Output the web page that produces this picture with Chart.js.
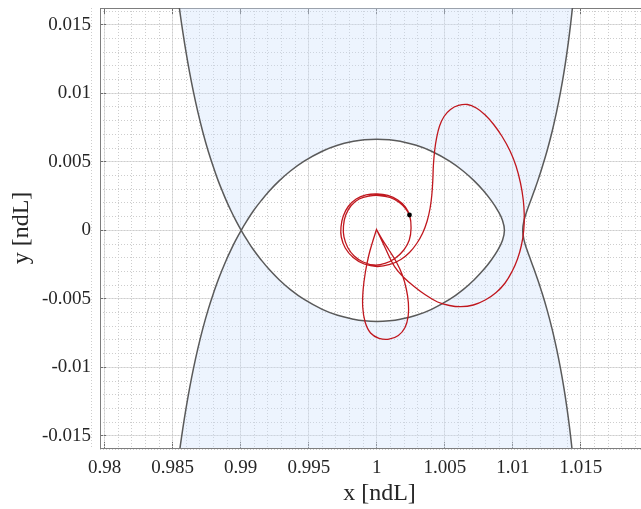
<!DOCTYPE html>
<html>
<head>
<meta charset="utf-8">
<script src="https://cdn.jsdelivr.net/npm/chart.js@4.4.1/dist/chart.umd.min.js"></script>
<style>
  html, body { margin: 0; padding: 0; overflow: hidden; background: #ffffff; width: 641px; height: 509px; }
  #wrap { position: absolute; left: 0; top: 0; width: 663px; height: 509px; }
</style>
</head>
<body>
<div id="wrap"><canvas id="c" width="663" height="509"></canvas></div>
<script>
// ---------------- data ----------------
// axis limits
const xLimits = [0.979657, 1.020737];
const yLimits = [-0.015885, 0.01622];

// tick positions and labels
const xTickValues = [0.98, 0.985, 0.99, 0.995, 1, 1.005, 1.01, 1.015];
const xTickLabels = ['0.98', '0.985', '0.99', '0.995', '1', '1.005', '1.01', '1.015'];
const yTickValues = [-0.015, -0.01, -0.005, 0, 0.005, 0.01, 0.015];
const yTickLabels = ['-0.015', '-0.01', '-0.005', '0', '0.005', '0.01', '0.015'];

// zero-velocity curve, sun side, upper branch (top of plot -> L1)
const leftOuterUpperX = [0.985345, 0.985539, 0.98575, 0.985982, 0.986238, 0.986523, 0.986842, 0.987202, 0.987612, 0.988088, 0.988346, 0.988635, 0.988938, 0.989272, 0.989634, 0.990032];
const leftOuterUpperY = [0.017308, 0.015865, 0.014423, 0.012981, 0.011538, 0.010096, 0.008654, 0.007212, 0.005769, 0.004327, 0.003606, 0.002885, 0.002163, 0.001442, 0.000721, 0];
// sun side, lower branch (L1 -> bottom of plot)
const leftOuterLowerX = [0.990032, 0.989634, 0.989272, 0.988938, 0.988635, 0.988346, 0.988088, 0.987612, 0.987202, 0.986842, 0.986523, 0.986238, 0.985982, 0.98575, 0.985539, 0.985345];
const leftOuterLowerY = [0, -0.000721, -0.001442, -0.002163, -0.002885, -0.003606, -0.004327, -0.005769, -0.007212, -0.008654, -0.010096, -0.011538, -0.012981, -0.014423, -0.015865, -0.017308];

// closed curve around the secondary, upper half (L1 -> right tip)
const ovalUpperX = [0.990032, 0.990471, 0.990948, 0.991502, 0.992115, 0.992822, 0.99365, 0.994661, 0.99599, 0.997118, 0.998292, 0.999074, 1.0, 1.000926, 1.001725, 1.002898, 1.004023, 1.005344, 1.006343, 1.007157, 1.007839, 1.008414, 1.008889, 1.009238, 1.009378];
const ovalUpperY = [0, 0.000721, 0.001442, 0.002163, 0.002885, 0.003606, 0.004327, 0.005048, 0.005769, 0.006202, 0.00649, 0.006606, 0.006652, 0.006606, 0.00649, 0.006202, 0.005769, 0.005048, 0.004327, 0.003606, 0.002885, 0.002163, 0.001442, 0.000721, 0];
// lower half (L1 -> right tip)
const ovalLowerX = [0.990032, 0.990471, 0.990948, 0.991502, 0.992115, 0.992822, 0.99365, 0.994661, 0.99599, 0.997118, 0.998292, 0.999074, 1.0, 1.000926, 1.001725, 1.002898, 1.004023, 1.005344, 1.006343, 1.007157, 1.007839, 1.008414, 1.008889, 1.009238, 1.009378];
const ovalLowerY = [0, -0.000721, -0.001442, -0.002163, -0.002885, -0.003606, -0.004327, -0.005048, -0.005769, -0.006202, -0.00649, -0.006606, -0.006652, -0.006606, -0.00649, -0.006202, -0.005769, -0.005048, -0.004327, -0.003606, -0.002885, -0.002163, -0.001442, -0.000721, 0];

// far side curve (top of plot -> bottom of plot)
const rightOuterX = [1.014482, 1.014335, 1.014166, 1.013974, 1.013754, 1.013501, 1.013213, 1.012883, 1.012502, 1.012065, 1.011827, 1.01157, 1.011305, 1.011041, 1.010819, 1.010719, 1.010819, 1.011041, 1.011305, 1.01157, 1.011827, 1.012065, 1.012502, 1.012883, 1.013213, 1.013501, 1.013754, 1.013974, 1.014166, 1.014335, 1.014482];
const rightOuterY = [0.017308, 0.015865, 0.014423, 0.012981, 0.011538, 0.010096, 0.008654, 0.007212, 0.005769, 0.004327, 0.003606, 0.002885, 0.002163, 0.001442, 0.000721, 0, -0.000721, -0.001442, -0.002163, -0.002885, -0.003606, -0.004327, -0.005769, -0.007212, -0.008654, -0.010096, -0.011538, -0.012981, -0.014423, -0.015865, -0.017308];

// trajectory (red)
const trajX = [0.999978, 1.000379, 1.00089, 1.001437, 1.001875, 1.002167, 1.00232, 1.002306, 1.002072, 1.001583, 1.00089, 1.000161, 0.99954, 0.999139, 0.998964, 0.998993, 0.999161, 0.999416, 0.999708, 0.999978, 0.999978,
  1.000576, 1.001306, 1.001985, 1.002765, 1.00359, 1.004466, 1.005341, 1.006166, 1.007092, 1.007968, 1.008771, 1.009427, 1.009938, 1.010339, 1.010631, 1.010799, 1.010835, 1.010762, 1.010558, 1.01023, 1.009792, 1.009208, 1.008588, 1.007968, 1.007311, 1.006654, 1.005998, 1.005414, 1.00494, 1.004611, 1.004393, 1.004247, 1.004159, 1.004115, 1.004042, 1.003918, 1.003699, 1.003371, 1.002933, 1.002401, 1.001766, 1.000963,
  1.000015, 0.999066, 0.998263, 0.99768, 0.997388, 0.997366, 0.997534, 0.997899, 0.998482, 0.999212, 1.000015, 1.000817, 1.001547, 1.002094, 1.002422, 1.002517, 1.002386, 1.001985, 1.001328, 1.000598,
  0.999796, 0.998993, 0.998336, 0.997862, 0.997585, 0.997548, 0.997716, 0.998117, 0.998701, 0.999431, 1.000161, 1.000963, 1.001656, 1.002131, 1.002401];
const trajY = [0.000058, -0.000635, -0.001437, -0.002313, -0.003262, -0.004283, -0.005305, -0.006253, -0.007092, -0.007676, -0.007946, -0.00788, -0.007494, -0.006691, -0.005597, -0.004356, -0.003043, -0.001802, -0.000781, 0.000058, 0.000058,
  -0.001197, -0.002656, -0.003444, -0.004115, -0.004721, -0.005232, -0.005487, -0.005575, -0.005451, -0.005086, -0.004538, -0.003845, -0.003006, -0.002094, -0.001073, 0.000022, 0.001116, 0.002211, 0.003451, 0.004692, 0.005786, 0.006844, 0.00772, 0.008413, 0.008924, 0.009179, 0.009106, 0.008814, 0.008303, 0.00761, 0.006735, 0.005786, 0.004765, 0.00367, 0.002576, 0.001627, 0.000679, -0.000197, -0.000963, -0.00162, -0.002131, -0.002495,
  -0.002641, -0.002459, -0.001985, -0.001292, -0.000489, 0.000241, 0.001043, 0.001737, 0.002284, 0.002576, 0.002649, 0.002539, 0.002211, 0.0017, 0.001043, 0.000168, -0.000708, -0.001437, -0.002058, -0.002422,
  -0.002532, -0.002313, -0.001875, -0.001255, -0.000489, 0.000314, 0.001116, 0.00181, 0.002284, 0.002503, 0.002539, 0.002393, 0.002028, 0.001554, 0.001116];

// marked point (black dot)
const markerX = [1.002401];
const markerY = [0.001116];

// ---------------- build chart structures ----------------
const pts = (xs, ys) => xs.map((x, i) => ({ x: x, y: ys[i] }));
const leftOuterUpper = pts(leftOuterUpperX, leftOuterUpperY);
const leftOuterLower = pts(leftOuterLowerX, leftOuterLowerY);
const ovalUpper = pts(ovalUpperX, ovalUpperY);
const ovalLower = pts(ovalLowerX, ovalLowerY);
const rightOuter = pts(rightOuterX, rightOuterY);

// the sun-side curve runs straight through L1 into the closed curve and back out
const westCurve = [].concat(
  leftOuterUpper,
  ovalLower.slice(1),
  ovalUpper.slice(0, -1).reverse(),
  leftOuterLower.slice(1)
);

// shaded region: between the two outer curves, without the inside of the closed curve
const L1 = leftOuterUpper[leftOuterUpper.length - 1];
const bl = leftOuterLower[leftOuterLower.length - 1];
const rightUp = rightOuter.slice().reverse();
const br = rightUp[0];
const tr = rightUp[rightUp.length - 1];
const shadePts = [].concat(
  leftOuterUpper, [L1],
  ovalUpper.slice(1),
  ovalLower.slice(0, -1).reverse(), [L1],
  leftOuterLower.slice(1), [bl],
  [br], rightUp, [tr]
);

const traj = pts(trajX, trajY);
const marker = pts(markerX, markerY);

const minorX = [];
for (let i = 979; i <= 1021; i++) minorX.push(i / 1000);
const minorY = [];
for (let i = -16; i <= 17; i++) minorY.push(i / 1000);

const serif = "'Liberation Serif', 'Times New Roman', serif";
const frameColor = '#7d7d7d';
const majorGrid = '#dfdfdf';
const minorGrid = '#cdcdcd';

function zeroPad(s) { s.paddingTop = 0; s.paddingBottom = 0; s.paddingLeft = 0; s.paddingRight = 0; }

new Chart(document.getElementById('c'), {
  type: 'scatter',
  data: {
    datasets: [
      { label: 'marker', data: marker, showLine: false, pointRadius: 2.4, pointBackgroundColor: '#000', pointBorderColor: '#000', pointBorderWidth: 0, order: 1 },
      { label: 'trajectory', data: traj, showLine: true, borderColor: '#c0171e', borderWidth: 1.3, pointRadius: 0, tension: 0.4, fill: false, order: 2 },
      { label: 'zvc west', data: westCurve, showLine: true, borderColor: '#5a5a5a', borderWidth: 1.5, pointRadius: 0, tension: 0.4, fill: false, order: 3 },
      { label: 'zvc east', data: rightOuter, showLine: true, borderColor: '#5a5a5a', borderWidth: 1.5, pointRadius: 0, tension: 0.4, fill: false, order: 3 },
      { label: 'forbidden', data: shadePts, showLine: true, borderColor: 'rgba(0,0,0,0)', borderWidth: 1, pointRadius: 0, tension: 0.4, fill: 'shape', backgroundColor: 'rgba(205,225,252,0.37)', order: 10 }
    ]
  },
  options: {
    responsive: false,
    animation: false,
    devicePixelRatio: 1,
    layout: { padding: { top: 8, left: 0, right: 0, bottom: 0 } },
    elements: { line: { capBezierPoints: false } },
    plugins: { legend: { display: false }, tooltip: { enabled: false } },
    events: [],
    scales: {
      x: {
        type: 'linear', position: 'bottom', min: xLimits[0], max: xLimits[1],
        afterBuildTicks: (s) => { s.ticks = xTickValues.map(v => ({ value: v })); },
        afterFit: (s) => { s.height = 61; zeroPad(s); },
        ticks: { callback: (v, i) => xTickLabels[i], font: { family: serif, size: 19 }, color: '#262626', padding: 15, maxRotation: 0, autoSkip: false, includeBounds: false },
        grid: { color: majorGrid, lineWidth: 1, drawTicks: true, tickLength: -6, tickColor: '#6e6e6e', tickWidth: 1 },
        border: { display: true, color: frameColor, width: 1 },
        title: { display: true, text: 'x [ndL]', font: { family: serif, size: 24 }, color: '#262626', padding: { top: 0, bottom: 1 } }
      },
      xMinor: {
        type: 'linear', position: 'bottom', min: xLimits[0], max: xLimits[1],
        afterBuildTicks: (s) => { s.ticks = minorX.map(v => ({ value: v })); },
        afterFit: (s) => { s.height = 0; zeroPad(s); },
        ticks: { display: false, includeBounds: false },
        grid: { color: minorGrid, lineWidth: 1, drawTicks: false },
        border: { display: false, dash: [1, 2] }
      },
      xTop: {
        type: 'linear', position: 'top', min: xLimits[0], max: xLimits[1],
        afterBuildTicks: (s) => { s.ticks = xTickValues.map(v => ({ value: v })); },
        afterFit: (s) => { s.height = 0; zeroPad(s); },
        ticks: { display: false, includeBounds: false },
        grid: { drawOnChartArea: false, drawTicks: true, tickLength: -6, tickColor: '#6e6e6e', tickWidth: 1 },
        border: { display: true, color: frameColor, width: 1 }
      },
      y: {
        type: 'linear', position: 'left', min: yLimits[0], max: yLimits[1],
        afterBuildTicks: (s) => { s.ticks = yTickValues.map(v => ({ value: v })); },
        afterFit: (s) => { s.width = 100; zeroPad(s); },
        ticks: { callback: (v, i) => yTickLabels[i], font: { family: serif, size: 19 }, color: '#262626', padding: 15, autoSkip: false, includeBounds: false },
        grid: { color: majorGrid, lineWidth: 1, drawTicks: true, tickLength: -6, tickColor: '#6e6e6e', tickWidth: 1 },
        border: { display: true, color: frameColor, width: 1 },
        title: { display: true, text: 'y [ndL]', font: { family: serif, size: 24 }, color: '#262626', padding: { top: 7, bottom: 0 } }
      },
      yMinor: {
        type: 'linear', position: 'left', min: yLimits[0], max: yLimits[1],
        afterBuildTicks: (s) => { s.ticks = minorY.map(v => ({ value: v })); },
        afterFit: (s) => { s.width = 0; zeroPad(s); },
        ticks: { display: false, includeBounds: false },
        grid: { color: minorGrid, lineWidth: 1, drawTicks: false },
        border: { display: false, dash: [1, 2] }
      }
    }
  }
});
</script>
</body>
</html>
